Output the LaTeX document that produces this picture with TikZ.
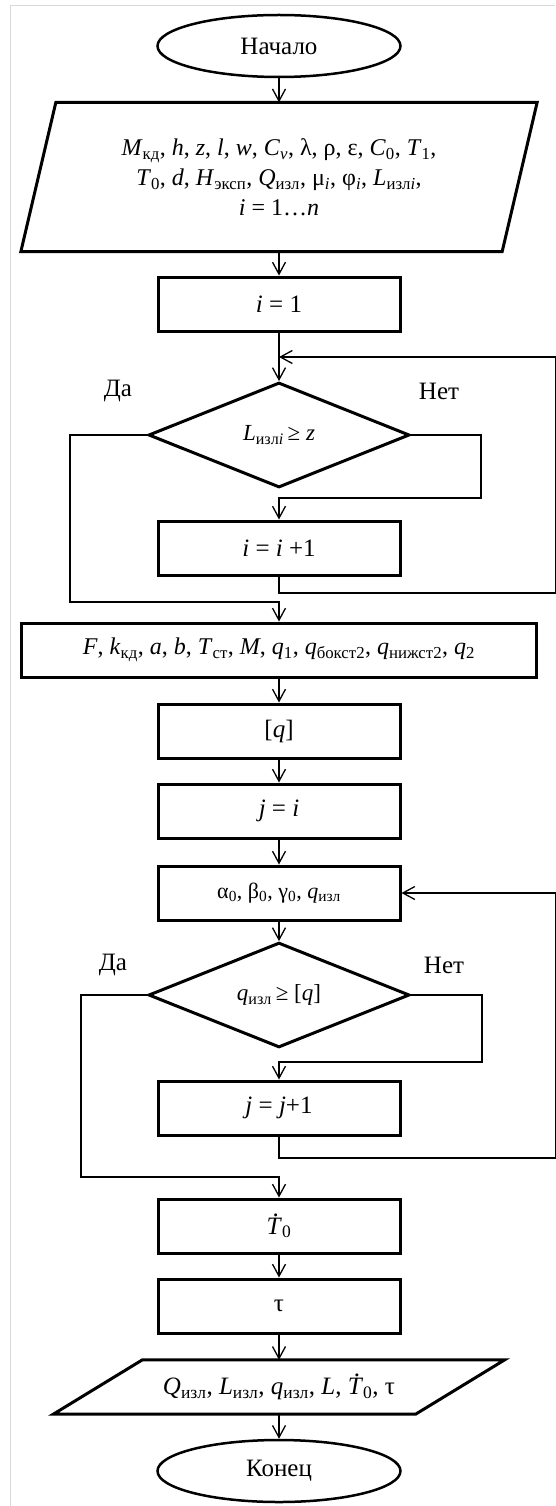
\documentclass[tikz,border=0pt]{standalone}
\usepackage{fontspec}
\setmainfont{Liberation Serif}
\usepackage{tikz}
\usetikzlibrary{positioning,calc,arrows.meta,shapes.geometric}

\newcommand{\lo}[1]{\textsubscript{#1}}
\newcommand{\Tdot}{\makebox[0pt][l]{\hspace{0.24em}\raisebox{0.7em}{.}}\textit{T}}

\begin{document}
\begin{tikzpicture}[x=1pt, y=-1pt, >={Straight Barb[length=12pt,width=13pt]}, line width=1.3pt]
    \tikzstyle{term node} = [ellipse, draw, line width=2.5pt, minimum width=243pt, minimum height=62pt, inner sep=0pt, font=\fontsize{25}{30}\selectfont]
    \tikzstyle{proc box} = [rectangle, draw, line width=3pt, minimum width=242pt, minimum height=54pt, inner sep=0pt, font=\fontsize{25}{30}\selectfont]
    \tikzstyle{io box} = [rectangle, inner sep=0pt, align=center, font=\fontsize{24}{30}\selectfont]
    \tikzstyle{io edge} = [line width=3pt, line join=miter]
    \tikzstyle{test node} = [diamond, draw, line width=3pt, minimum width=261pt, inner sep=0pt, font=\fontsize{23}{26}\selectfont]
    \tikzstyle{yn} = [font=\fontsize{25}{30}\selectfont]
    \useasboundingbox (0,0) rectangle (555,1506);
    \draw[line width=1pt, black!15] (10,1506) -- (10,6) -- (555,6);

    % blocks
    \node[term node] (start) at (279,46) {Начало};
    \node[io box, minimum width=480pt, minimum height=148pt] (input) at (279,177)
        {\textit{M}\lo{кд}, \textit{h}, \textit{z}, \textit{l}, \textit{w}, \textit{C}\lo{\textit{v}}, λ, ρ, ε, \textit{C}\lo{0}, \textit{T}\lo{1},\\
         \textit{T}\lo{0}, \textit{d}, \textit{H}\lo{эксп}, \textit{Q}\lo{изл}, μ\lo{\textit{i}}, φ\lo{\textit{i}}, \textit{L}\lo{изл\textit{i}},\\
         \textit{i} = 1…\textit{n}};
    \draw[io edge] ([xshift=17.5pt]input.north west) -- ([xshift=17.5pt]input.north east)
        -- ([xshift=-17.5pt]input.south east) -- ([xshift=-17.5pt]input.south west) -- cycle;
    \node[proc box] (init) at (279,304) {\textit{i} = 1};
    \coordinate (merge1) at (279,357);
    \node[test node, minimum height=105pt] (test1) at (279,435) {\textit{L}\lo{изл\textit{i}}\,≥ \textit{z}};
    \node[proc box] (inc1) at (279,548) {\textit{i} = \textit{i} +1};
    \node[proc box, minimum width=515pt, font=\fontsize{24}{28}\selectfont] (calc) at (279,650)
        {\textit{F}, \textit{k}\lo{кд}, \textit{a}, \textit{b}, \textit{T}\lo{ст}, \textit{M}, \textit{q}\lo{1}, \textit{q}\lo{бокст2}, \textit{q}\lo{нижст2}, \textit{q}\lo{2}};
    \node[proc box] (perm) at (279,731) {[\textit{q}]};
    \node[proc box] (setj) at (279,811) {\textit{j} = \textit{i}};
    \node[proc box, font=\fontsize{22}{26}\selectfont] (coef) at (279,893) {α\lo{0}, β\lo{0}, γ\lo{0}, \textit{q}\lo{изл}};
    \node[test node, minimum height=96pt] (test2) at (279,995) {\textit{q}\lo{изл}\,≥ [\textit{q}]};
    \node[proc box] (inc2) at (279,1108) {\textit{j} = \textit{j}+1};
    \node[proc box] (rate) at (279,1226) {\Tdot\lo{0}};
    \node[proc box] (time) at (279,1306) {τ};
    \node[io box, minimum width=361pt, minimum height=53pt, font=\fontsize{25}{30}\selectfont] (output) at (279,1387)
        {\textit{Q}\lo{изл}, \textit{L}\lo{изл}, \textit{q}\lo{изл}, \textit{L}, \Tdot\lo{0}, τ};
    \draw[io edge] ([xshift=44.5pt]output.north west) -- ([xshift=44.5pt]output.north east)
        -- ([xshift=-44.5pt]output.south east) -- ([xshift=-44.5pt]output.south west) -- cycle;
    \node[term node] (stop) at (279,1471) {Конец};

    % branch labels
    \node[yn] (yes1) at (118,391) {Да};
    \node[yn] (no1) at (439,391) {Нет};
    \node[yn] (yes2) at (113,965) {Да};
    \node[yn] (no2) at (444,965) {Нет};

    % flow
    \draw[->] (start) -- (input);
    \draw[->] (input) -- (init);
    \draw[->] (init) -- (test1);
    \draw[->] (test1.west) -| (70,602) -| (calc.north);
    \draw[->] (test1.east) -| (481,498) -| (inc1.north);
    \draw[->] (inc1.south) |- (555.3,593) |- (merge1);
    \draw[->] (calc) -- (perm);
    \draw[->] (perm) -- (setj);
    \draw[->] (setj) -- (coef);
    \draw[->] (coef) -- (test2);
    \draw[->] (test2.west) -| (81,1177) -| (rate.north);
    \draw[->] (test2.east) -| (482,1062) -| (inc2.north);
    \draw[->] (inc2.south) |- (555.3,1158) |- (coef.east);
    \draw[->] (rate) -- (time);
    \draw[->] (time) -- (output);
    \draw[->] (output) -- (stop);
\end{tikzpicture}
\end{document}
